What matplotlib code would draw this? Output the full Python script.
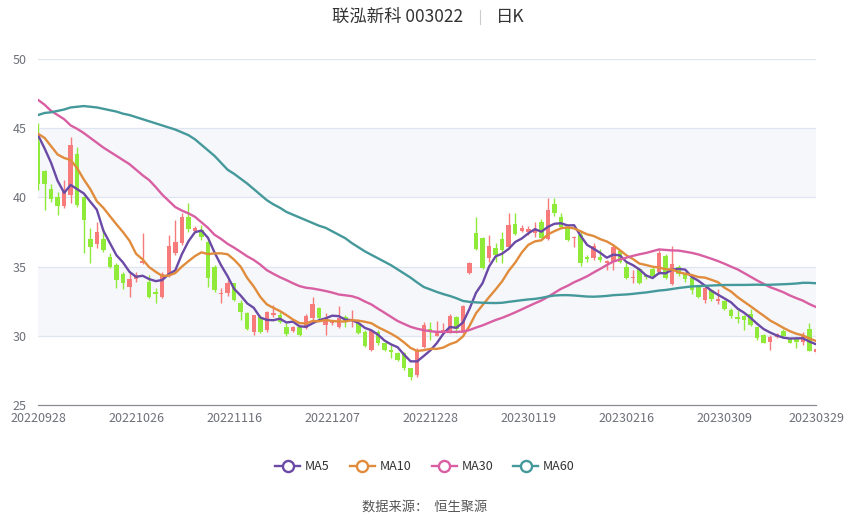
import matplotlib
matplotlib.use("Agg")
import matplotlib.pyplot as plt
from matplotlib.lines import Line2D
import numpy as np
import pandas as pd

plt.rcParams['font.family'] = ['Noto Sans CJK SC', 'DejaVu Sans']

title_main = "联泓新科 003022"
title_sub = "日K"
source_text = "数据来源：  恒生聚源"

tick_idx = [0, 15, 30, 45, 60, 75, 90, 105, 119]
tick_labels = ["20220928", "20221026", "20221116", "20221207", "20221228",
               "20230119", "20230216", "20230309", "20230329"]

opens = [44.0, 41.9, 40.6, 40.05, 39.4, 40.2, 43.1, 40.05, 37.0, 36.6,
         37.0, 35.7, 35.1, 34.5, 33.55, 34.1, 35.25, 33.9, 33.2, 32.8,
         34.4, 35.96, 36.7, 38.6, 37.6, 37.65, 36.8, 35.0, 33.0, 33.07,
         33.8, 32.39, 31.62, 30.3, 31.38, 30.42, 31.5, 31.5, 30.6, 30.37,
         30.6, 30.54, 31.26, 31.98, 30.78, 30.9, 30.66, 31.38, 31.05, 30.95,
         30.3, 28.97, 30.3, 29.45, 28.97, 28.78, 28.73, 27.65, 27.17, 29.22,
         30.5, 30.0, 30.3, 30.3, 31.38, 30.3, 34.56, 37.45, 37.04, 35.65,
         36.35, 36.97, 36.4, 38.08, 37.6, 37.5, 37.45, 38.25, 37.0, 39.55,
         38.55, 37.88, 37.04, 37.28, 35.7, 35.6, 35.67, 35.28, 35.36, 36.1,
         35.0, 34.15, 34.8, 34.4, 34.8, 34.6, 35.8, 33.75, 34.95, 34.5,
         34.15, 33.6, 32.6, 33.3, 32.5, 32.5, 31.86, 31.38, 31.45, 31.6,
         30.62, 30.06, 29.52, 29.94, 30.32, 29.76, 29.75, 29.55, 30.5, 28.8]
closes = [40.95, 41.0, 39.9, 39.4, 40.4, 43.8, 39.45, 38.4, 36.4, 37.5,
          36.2, 35.0, 34.0, 33.8, 34.1, 34.4, 35.4, 32.8, 33.05, 34.5,
          36.5, 36.8, 38.6, 37.7, 37.8, 37.15, 34.15, 33.3, 33.1, 33.8,
          32.6, 31.74, 30.47, 31.5, 30.3, 31.74, 31.62, 31.02, 30.13, 30.6,
          30.06, 31.43, 32.3, 31.26, 31.26, 31.02, 31.26, 31.02, 31.1, 30.23,
          29.26, 30.37, 29.45, 28.97, 28.85, 28.25, 27.65, 27.05, 28.97, 30.78,
          30.25, 30.3, 30.45, 31.4, 30.5, 32.15, 35.25, 36.25, 34.88, 36.5,
          35.84, 36.2, 38.0, 37.36, 37.76, 37.7, 37.7, 37.1, 39.1, 38.88,
          37.88, 36.92, 37.16, 35.28, 35.58, 36.5, 35.45, 35.4, 36.4, 35.3,
          34.15, 34.27, 33.85, 34.25, 34.35, 35.96, 34.15, 35.2, 34.5, 34.1,
          33.3, 32.8, 33.45, 32.65, 32.65, 31.95, 31.4, 31.19, 31.15, 30.78,
          29.82, 29.48, 29.94, 30.1, 29.98, 29.5, 29.56, 29.97, 28.9, 29.02]
highs = [45.35, 42.0, 41.0, 40.42, 41.26, 44.39, 43.66, 40.1, 37.77, 38.24,
         37.77, 35.96, 35.24, 34.64, 34.64, 34.6, 37.4, 34.39, 33.43, 34.6,
         37.28, 38.37, 38.85, 39.57, 37.9, 38.0, 37.16, 35.1, 33.43, 34.0,
         33.85, 32.59, 31.74, 31.5, 31.5, 31.8, 32.23, 31.74, 30.9, 30.7,
         30.66, 31.58, 32.83, 32.1, 31.62, 31.1, 32.15, 31.5, 31.86, 31.0,
         30.4, 30.4, 30.4, 29.5, 29.33, 28.85, 28.8, 27.7, 29.1, 31.0,
         31.0, 31.1, 30.9, 31.55, 31.45, 32.25, 35.3, 38.6, 37.16, 37.3,
         36.7, 37.5, 38.85, 38.85, 38.0, 37.9, 38.25, 38.45, 39.93, 39.93,
         38.9, 38.0, 37.2, 37.64, 35.84, 36.7, 36.3, 35.5, 36.55, 36.2,
         35.36, 34.75, 34.87, 34.5, 34.95, 36.2, 35.9, 36.5, 35.1, 34.6,
         34.2, 33.7, 33.6, 33.4, 33.4, 32.6, 31.98, 31.86, 31.5, 31.95,
         30.66, 30.13, 30.06, 30.2, 30.5, 29.82, 29.94, 30.3, 30.92, 29.1]
lows = [40.53, 39.1, 39.69, 38.73, 39.21, 39.57, 39.33, 35.98, 35.24, 36.32,
        36.08, 34.88, 33.47, 33.38, 32.83, 33.9, 35.2, 32.7, 32.35, 32.7,
        34.27, 35.84, 36.56, 37.52, 37.5, 36.92, 33.55, 33.2, 32.35, 32.9,
        32.5, 31.14, 30.42, 30.06, 30.2, 30.3, 31.38, 30.9, 29.98, 30.3,
        29.98, 30.47, 31.14, 31.14, 30.06, 30.8, 30.54, 30.66, 30.66, 30.1,
        29.2, 28.9, 29.3, 28.9, 28.37, 28.2, 27.5, 26.8, 27.0, 29.1,
        29.7, 29.95, 30.1, 30.2, 30.2, 30.2, 34.5, 36.2, 34.8, 35.3,
        35.3, 35.24, 36.3, 37.28, 37.5, 37.3, 37.16, 37.04, 36.92, 38.65,
        37.76, 36.87, 36.42, 35.02, 35.36, 35.5, 35.36, 34.75, 34.78, 35.24,
        34.08, 33.84, 33.74, 34.1, 34.2, 34.5, 34.1, 33.7, 34.3, 33.9,
        33.0, 32.7, 32.4, 32.5, 32.3, 31.86, 31.26, 30.9, 30.4, 30.7,
        29.7, 29.45, 28.97, 29.85, 29.94, 29.45, 29.1, 29.34, 28.88, 28.72]

# moving-average values before enough in-window closes exist
ma5_head = [44.5, 43.55, 42.5, 41.2]
ma10_head = [44.6, 44.3, 43.7, 43.1, 42.85, 42.7, 42.1, 41.3, 40.6]
ma30_head = [47.05, 46.7, 46.25, 45.95, 45.65, 45.2, 44.95, 44.65, 44.3, 43.95,
             43.6, 43.3, 43.0, 42.7, 42.4, 42.0, 41.6, 41.25, 40.75, 40.2,
             39.75, 39.3, 39.05, 38.85, 38.6, 38.2, 37.8, 37.3, 37.0]
ma60_head = [45.95, 46.1, 46.15, 46.25, 46.35, 46.5, 46.55, 46.6, 46.55, 46.5,
             46.4, 46.3, 46.2, 46.05, 45.95, 45.8, 45.65, 45.5, 45.35, 45.2,
             45.05, 44.9, 44.7, 44.5, 44.2, 43.8, 43.4, 43.0, 42.5, 42.0,
             41.7, 41.35, 41.0, 40.6, 40.2, 39.8, 39.5, 39.25, 38.95, 38.75,
             38.55, 38.35, 38.15, 37.95, 37.8, 37.55, 37.3, 37.05, 36.7, 36.4,
             36.1, 35.85, 35.6, 35.35, 35.1, 34.8, 34.5, 34.2, 33.85]

ma_specs = [("MA5", 5, ma5_head, "#6b4aa6"),
            ("MA10", 10, ma10_head, "#e08c3c"),
            ("MA30", 30, ma30_head, "#d95fa3"),
            ("MA60", 60, ma60_head, "#45999a")]

up_color = "#f77b7b"
down_color = "#8fea3a"

n = len(closes)
x = np.arange(n)
o = np.array(opens); c = np.array(closes); h = np.array(highs); l = np.array(lows)

fig = plt.figure(figsize=(8.5, 5.17), dpi=100)
ax = fig.add_axes([38/850, 1-405/517, (816-38)/850, (405-59)/517])

# split areas
ax.axhspan(40, 45, color="#f5f7fb", zorder=0, lw=0)
ax.axhspan(30, 35, color="#f5f7fb", zorder=0, lw=0)
for yv in [30, 35, 40, 45, 50]:
    ax.axhline(yv, color="#e0e6f1", lw=0.9, zorder=1)

up = c >= o
colors = np.where(up, up_color, down_color)
ax.vlines(x, l, h, colors=colors, lw=1.0, zorder=2)
body_low = np.minimum(o, c)
body_h = np.maximum(np.abs(c - o), 0.06)
ax.bar(x, body_h, bottom=body_low, width=0.68, color=colors, lw=0, zorder=3)

cs = pd.Series(closes)
handles = []
for name, w, head, col in ma_specs:
    vals = cs.rolling(w).mean().to_numpy()
    vals[:len(head)] = head
    ax.plot(x, vals, color=col, lw=1.7, zorder=4, solid_capstyle="round",
            solid_joinstyle="round")
    handles.append(Line2D([0], [0], color=col, lw=1.7, marker="o", markersize=8,
                          markerfacecolor="white", markeredgecolor=col, markeredgewidth=1.7,
                          label=name))

ax.set_xlim(0, n - 1)
ax.set_ylim(25, 50)
ax.set_yticks([25, 30, 35, 40, 45, 50])
ax.set_xticks(tick_idx)
ax.set_xticklabels(tick_labels)
ax.tick_params(axis="y", length=0, labelsize=9, colors="#6e7079", pad=8)
ax.tick_params(axis="x", length=0, labelsize=9, colors="#6e7079", pad=5)
for s in ["top", "right", "left"]:
    ax.spines[s].set_visible(False)
ax.spines["bottom"].set_color("#8a8c94")
ax.spines["bottom"].set_linewidth(0.9)
ax.patch.set_alpha(0)

fig.text(463/850, 1-17/517, title_main, ha="right", va="center", fontsize=12.5, color="#333333")
fig.text(496/850, 1-17/517, title_sub, ha="left", va="center", fontsize=12.5, color="#333333")
fig.add_artist(Line2D([480/850, 480/850], [1-10/517, 1-24/517], color="#cccccc", lw=0.8))

fig.legend(handles=handles, loc="center", bbox_to_anchor=(0.5, 1-467/517), ncol=4,
           frameon=False, fontsize=9, handlelength=2.0, columnspacing=1.6, handletextpad=0.4,
           labelcolor="#333333")

fig.text(0.5, 1-507/517, source_text, ha="center", va="center", fontsize=9.5, color="#555555")

fig.savefig("out.png", dpi=100)
